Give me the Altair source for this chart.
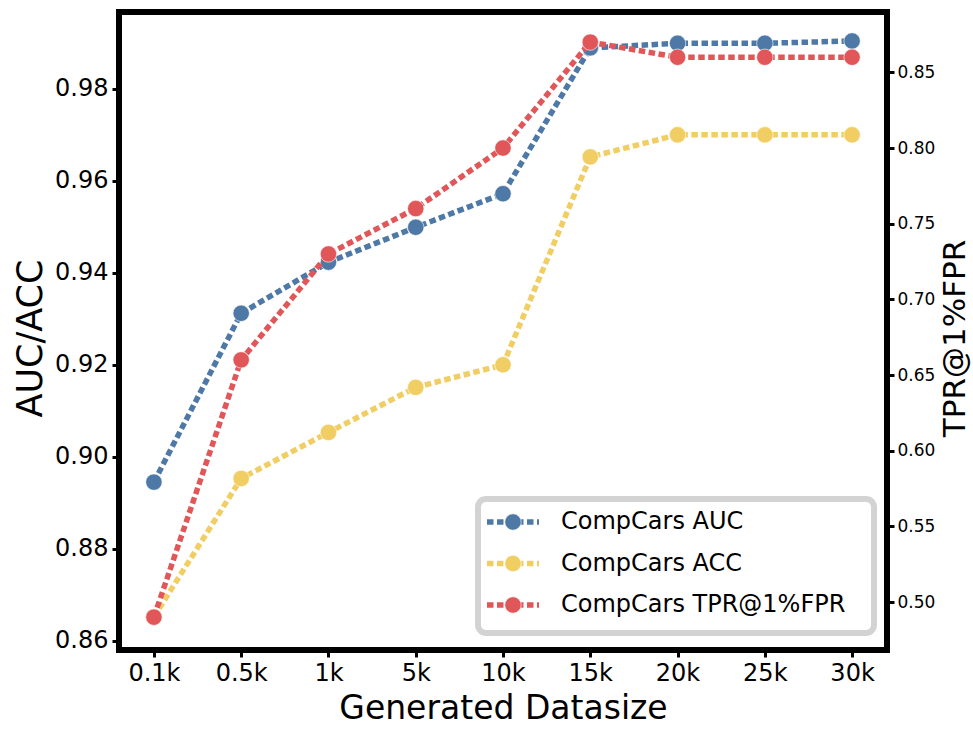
import altair as alt
import pandas as pd

sizes = ["0.1k", "0.5k", "1k", "5k", "10k", "15k", "20k", "25k", "30k"]
auc = [0.8945, 0.9312, 0.9423, 0.9499, 0.9572, 0.9889, 0.9899, 0.9899, 0.9904]
acc = [0.8652, 0.8953, 0.9053, 0.9151, 0.9200, 0.9652, 0.9700, 0.9700, 0.9700]
tpr = [0.49, 0.66, 0.73, 0.76, 0.80, 0.87, 0.86, 0.86, 0.86]
series_names = ["CompCars AUC", "CompCars ACC", "CompCars TPR@1%FPR"]
series_colors = ["#4E79A7", "#F1CE63", "#E15759"]
left_ticks = [0.86, 0.88, 0.90, 0.92, 0.94, 0.96, 0.98]
right_ticks = [0.50, 0.55, 0.60, 0.65, 0.70, 0.75, 0.80, 0.85]
left_domain = [0.8580, 0.9967]
right_domain = [0.4683, 0.8899]

W, H = 768, 638
FONT = "DejaVu Sans"

left_df = pd.DataFrame({
    "size": sizes * 2,
    "value": auc + acc,
    "series": [series_names[0]] * len(sizes) + [series_names[1]] * len(sizes),
})
right_df = pd.DataFrame({"size": sizes, "value": tpr, "series": [series_names[2]] * len(sizes)})
legend_df = pd.DataFrame({"series": series_names})

color = alt.Color("series:N", scale=alt.Scale(domain=series_names, range=series_colors), legend=None)
x_enc = alt.X(
    "size:N",
    sort=sizes,
    scale=alt.Scale(type="point", domain=sizes, padding=0.4),
    axis=alt.Axis(
        title="Generated Datasize", labelAngle=0, labelFontSize=24, titleFontSize=33,
        titleX=W / 2, titleY=58, titleAlign="center", titleBaseline="middle",
    ),
)

left_scale = alt.Scale(domain=left_domain, nice=False, zero=False)
right_scale = alt.Scale(domain=right_domain, nice=False, zero=False)

left_axis = alt.Axis(
    orient="left", values=left_ticks, format=".2f", labelFontSize=24,
    title="AUC/ACC", titleFontSize=35, titleX=-89, titleY=H / 2 + 7,
    titleAngle=270, titleAlign="center", titleBaseline="middle",
)
right_axis = alt.Axis(
    orient="right", values=right_ticks, format=".2f", labelFontSize=17, labelPadding=3,
    title="TPR@1%FPR", titleFontSize=31, titleX=68, titleY=H / 2 + 7,
    titleAngle=270, titleAlign="center", titleBaseline="middle",
)

line_kw = dict(strokeWidth=5.5, strokeDash=[6.5, 3.5], strokeCap="butt")
pt_kw = dict(filled=True, size=270, opacity=1, stroke="white", strokeWidth=1, strokeOpacity=0.6)

left_lines = alt.Chart(left_df).mark_line(**line_kw).encode(
    x=x_enc, y=alt.Y("value:Q", scale=left_scale, axis=left_axis), color=color, detail="series:N"
)
left_points = alt.Chart(left_df).mark_point(**pt_kw).encode(
    x=x_enc, y=alt.Y("value:Q", scale=left_scale, axis=None), color=color
)
right_lines = alt.Chart(right_df).mark_line(**line_kw).encode(
    x=x_enc, y=alt.Y("value:Q", scale=right_scale, axis=right_axis), color=color
)
right_points = alt.Chart(right_df).mark_point(**pt_kw).encode(
    x=x_enc, y=alt.Y("value:Q", scale=right_scale, axis=None), color=color
)

legend_y = alt.Y(
    "series:N", sort=series_names,
    scale=alt.Scale(type="point", domain=series_names, range=[510, 593], padding=0), axis=None,
)
legend_box = alt.Chart(pd.DataFrame({"k": [0]})).mark_rect(
    fill="white", stroke="#d3d3d3", strokeWidth=6, cornerRadius=8
).encode(x=alt.value(359), x2=alt.value(755), y=alt.value(487), y2=alt.value(621))
legend_rules = alt.Chart(legend_df).mark_rule(**line_kw).encode(
    x=alt.value(368), x2=alt.value(420), y=legend_y, color=color
)
legend_pts = alt.Chart(legend_df).mark_point(**pt_kw).encode(
    x=alt.value(394), y=legend_y, color=color
)
legend_text = alt.Chart(legend_df).mark_text(
    align="left", baseline="middle", fontSize=24, font=FONT, color="black"
).encode(x=alt.value(442), y=legend_y, text="series:N")

chart = (
    alt.layer(
        left_lines, left_points, right_lines, right_points,
        legend_box, legend_rules, legend_pts, legend_text,
    )
    .resolve_scale(y="independent")
    .properties(
        width=W, height=H,
        padding={"left": 119, "top": 12, "right": 973 - 119 - W, "bottom": 729 - 12 - H},
        autosize=alt.AutoSizeParams(type="none"),
        background="white",
    )
    .configure_view(stroke="black", strokeWidth=6)
    .configure_axis(
        domain=False, grid=False, tickColor="black", tickWidth=3, tickSize=7,
        labelPadding=4, labelColor="black", titleColor="black",
        labelFont=FONT, titleFont=FONT, titleFontWeight="normal",
    )
)

chart.save("out.html", embed_options={"renderer": "svg", "actions": False})
